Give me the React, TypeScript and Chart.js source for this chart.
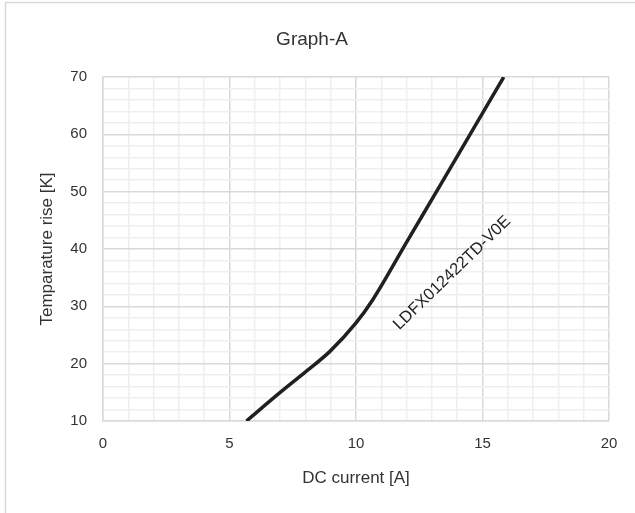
import React, { useEffect, useRef } from "react";
import { Chart, registerables } from "chart.js";

Chart.register(...registerables);

const chartTitle = "Graph-A";
const seriesLabel = "LDFX012422TD-V0E";
const xAxisTitle = "DC current [A]";
const yAxisTitle = "Temparature rise [K]";

const currentA = [5.67, 6.98, 8.04, 8.96, 10.0, 10.67, 11.99, 13.46, 14.51, 15.84];
const tempRiseK = [10, 14.9, 18.7, 22.1, 27.1, 31.2, 41.1, 52.1, 60, 70];

const xMajorTicks = [0, 5, 10, 15, 20];
const yMajorTicks = [10, 20, 30, 40, 50, 60, 70];

const FONT = '"Liberation Sans", Arial, Helvetica, sans-serif';
const TEXT = "#333333";

const framePlugin = {
  id: "frameAndTitle",
  beforeDraw(chart: any) {
    const ctx = chart.ctx;
    ctx.save();
    ctx.fillStyle = "#ffffff";
    ctx.fillRect(0, 0, chart.width, chart.height);
    ctx.strokeStyle = "#d9d9d9";
    ctx.lineWidth = 1.5;
    ctx.beginPath();
    ctx.moveTo(5.5, chart.height);
    ctx.lineTo(5.5, 2.5);
    ctx.lineTo(chart.width, 2.5);
    ctx.stroke();
    ctx.fillStyle = TEXT;
    ctx.font = `19px ${FONT}`;
    ctx.textAlign = "center";
    ctx.textBaseline = "middle";
    ctx.fillText(chartTitle, 312, 40);
    ctx.restore();
  },
  afterDatasetsDraw(chart: any) {
    const ctx = chart.ctx;
    const xs = chart.scales.x;
    const ys = chart.scales.y;
    const px = xs.getPixelForValue(13.8);
    const py = ys.getPixelForValue(35.8);
    ctx.save();
    ctx.translate(px, py);
    ctx.rotate((-44 * Math.PI) / 180);
    ctx.fillStyle = "#231f20";
    ctx.font = `16.5px ${FONT}`;
    ctx.textAlign = "center";
    ctx.textBaseline = "middle";
    ctx.fillText(seriesLabel, 0, 0);
    ctx.restore();
  },
};

export default function App() {
  const ref = useRef<HTMLCanvasElement | null>(null);

  useEffect(() => {
    if (!ref.current) return;
    const chart = new Chart(ref.current, {
      type: "line",
      data: {
        datasets: [
          {
            label: seriesLabel,
            data: currentA.map((x, i) => ({ x, y: tempRiseK[i] })),
            borderColor: "#231f20",
            borderWidth: 3.5,
            pointRadius: 0,
            fill: false,
            cubicInterpolationMode: "monotone",
          },
        ],
      },
      options: {
        responsive: false,
        animation: false,
        layout: { padding: { left: 0, top: 77, right: 26, bottom: 0 } },
        plugins: {
          legend: { display: false },
          title: { display: false },
          tooltip: { enabled: false },
        },
        scales: {
          x: {
            type: "linear",
            min: 0,
            max: 20,
            afterFit(scale: any) {
              scale.height = 92;
            },
            ticks: {
              stepSize: 1,
              autoSkip: false,
              maxRotation: 0,
              padding: 14,
              color: TEXT,
              font: { family: FONT, size: 15 },
              callback: (v: any) => (xMajorTicks.includes(Number(v)) ? String(v) : ""),
            },
            grid: {
              drawTicks: false,
              lineWidth: 1.5,
              color: (c: any) => (xMajorTicks.includes(c.tick?.value) ? "#d9d9d9" : "#efefef"),
            },
            border: { display: true, color: "#d9d9d9", width: 1.5 },
            title: {
              display: true,
              text: xAxisTitle,
              color: TEXT,
              font: { family: FONT, size: 17 },
              padding: { top: 0, bottom: 24 },
            },
          },
          y: {
            type: "linear",
            min: 10,
            max: 70,
            afterFit(scale: any) {
              scale.width = 103;
            },
            ticks: {
              stepSize: 2,
              autoSkip: false,
              padding: 16,
              color: TEXT,
              font: { family: FONT, size: 15 },
              callback: (v: any) => (yMajorTicks.includes(Number(v)) ? String(v) : ""),
            },
            grid: {
              drawTicks: false,
              lineWidth: 1.5,
              color: (c: any) => (yMajorTicks.includes(c.tick?.value) ? "#d9d9d9" : "#efefef"),
            },
            border: { display: true, color: "#d9d9d9", width: 1.5 },
            title: {
              display: true,
              text: yAxisTitle,
              color: TEXT,
              font: { family: FONT, size: 17 },
              padding: { top: 37, bottom: 0 },
            },
          },
        },
      },
      plugins: [framePlugin],
    } as any);
    return () => chart.destroy();
  }, []);

  return (
    <div style={{ position: "fixed", left: 0, top: 0, width: 635, height: 513 }}>
      <canvas ref={ref} width={635} height={513} style={{ width: 635, height: 513, display: "block" }} />
    </div>
  );
}
